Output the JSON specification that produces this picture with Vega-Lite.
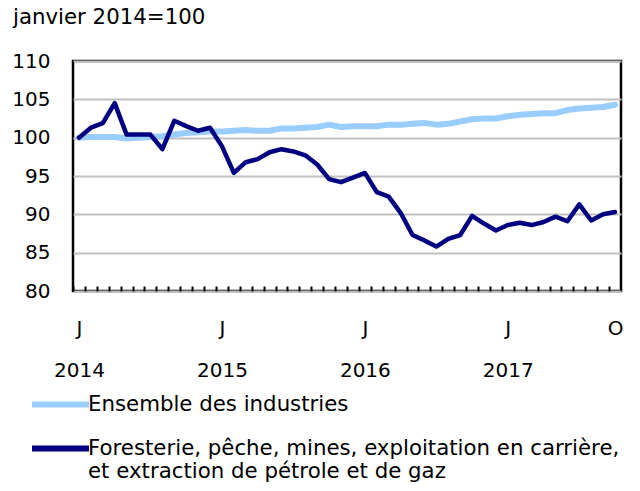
{
  "$schema": "https://vega.github.io/schema/vega-lite/v6.json",
  "autosize": {"type": "none"},
  "width": 548,
  "height": 230,
  "padding": {"left": 73, "top": 61, "right": 19, "bottom": 200},
  "background": "white",
  "config": {
    "font": "DejaVu Sans",
    "view": {"stroke": "black", "strokeWidth": 2.5},
    "axis": {"labelFont": "DejaVu Sans", "labelFontSize": 20, "labelColor": "black"},
    "legend": {"labelFont": "DejaVu Sans", "labelFontSize": 21.3, "labelColor": "black"}
  },
  "title": {
    "text": "janvier 2014=100",
    "anchor": "start",
    "frame": "group",
    "dx": -60,
    "offset": 6,
    "baseline": "alphabetic",
    "fontSize": 21.3,
    "fontWeight": "normal",
    "font": "DejaVu Sans",
    "color": "black"
  },
  "data": {
    "values": [
      {"date": "2014-01", "series": "Ensemble des industries", "value": 100.0},
      {"date": "2014-02", "series": "Ensemble des industries", "value": 100.1},
      {"date": "2014-03", "series": "Ensemble des industries", "value": 100.1},
      {"date": "2014-04", "series": "Ensemble des industries", "value": 100.1},
      {"date": "2014-05", "series": "Ensemble des industries", "value": 99.9},
      {"date": "2014-06", "series": "Ensemble des industries", "value": 100.0},
      {"date": "2014-07", "series": "Ensemble des industries", "value": 100.1},
      {"date": "2014-08", "series": "Ensemble des industries", "value": 100.2},
      {"date": "2014-09", "series": "Ensemble des industries", "value": 100.4},
      {"date": "2014-10", "series": "Ensemble des industries", "value": 100.6},
      {"date": "2014-11", "series": "Ensemble des industries", "value": 100.7},
      {"date": "2014-12", "series": "Ensemble des industries", "value": 100.8},
      {"date": "2015-01", "series": "Ensemble des industries", "value": 100.8},
      {"date": "2015-02", "series": "Ensemble des industries", "value": 100.9},
      {"date": "2015-03", "series": "Ensemble des industries", "value": 101.0},
      {"date": "2015-04", "series": "Ensemble des industries", "value": 100.9},
      {"date": "2015-05", "series": "Ensemble des industries", "value": 100.9},
      {"date": "2015-06", "series": "Ensemble des industries", "value": 101.2},
      {"date": "2015-07", "series": "Ensemble des industries", "value": 101.2},
      {"date": "2015-08", "series": "Ensemble des industries", "value": 101.3},
      {"date": "2015-09", "series": "Ensemble des industries", "value": 101.4},
      {"date": "2015-10", "series": "Ensemble des industries", "value": 101.7},
      {"date": "2015-11", "series": "Ensemble des industries", "value": 101.4},
      {"date": "2015-12", "series": "Ensemble des industries", "value": 101.5},
      {"date": "2016-01", "series": "Ensemble des industries", "value": 101.5},
      {"date": "2016-02", "series": "Ensemble des industries", "value": 101.5},
      {"date": "2016-03", "series": "Ensemble des industries", "value": 101.7},
      {"date": "2016-04", "series": "Ensemble des industries", "value": 101.7},
      {"date": "2016-05", "series": "Ensemble des industries", "value": 101.8},
      {"date": "2016-06", "series": "Ensemble des industries", "value": 101.9},
      {"date": "2016-07", "series": "Ensemble des industries", "value": 101.7},
      {"date": "2016-08", "series": "Ensemble des industries", "value": 101.8},
      {"date": "2016-09", "series": "Ensemble des industries", "value": 102.1},
      {"date": "2016-10", "series": "Ensemble des industries", "value": 102.4},
      {"date": "2016-11", "series": "Ensemble des industries", "value": 102.5},
      {"date": "2016-12", "series": "Ensemble des industries", "value": 102.5},
      {"date": "2017-01", "series": "Ensemble des industries", "value": 102.8},
      {"date": "2017-02", "series": "Ensemble des industries", "value": 103.0},
      {"date": "2017-03", "series": "Ensemble des industries", "value": 103.1},
      {"date": "2017-04", "series": "Ensemble des industries", "value": 103.2},
      {"date": "2017-05", "series": "Ensemble des industries", "value": 103.2},
      {"date": "2017-06", "series": "Ensemble des industries", "value": 103.6},
      {"date": "2017-07", "series": "Ensemble des industries", "value": 103.8},
      {"date": "2017-08", "series": "Ensemble des industries", "value": 103.9},
      {"date": "2017-09", "series": "Ensemble des industries", "value": 104.0},
      {"date": "2017-10", "series": "Ensemble des industries", "value": 104.3},
      {"date": "2014-01", "series": "Foresterie", "value": 100.0},
      {"date": "2014-02", "series": "Foresterie", "value": 101.3},
      {"date": "2014-03", "series": "Foresterie", "value": 101.9},
      {"date": "2014-04", "series": "Foresterie", "value": 104.5},
      {"date": "2014-05", "series": "Foresterie", "value": 100.4},
      {"date": "2014-06", "series": "Foresterie", "value": 100.4},
      {"date": "2014-07", "series": "Foresterie", "value": 100.4},
      {"date": "2014-08", "series": "Foresterie", "value": 98.5},
      {"date": "2014-09", "series": "Foresterie", "value": 102.2},
      {"date": "2014-10", "series": "Foresterie", "value": 101.5},
      {"date": "2014-11", "series": "Foresterie", "value": 100.9},
      {"date": "2014-12", "series": "Foresterie", "value": 101.3},
      {"date": "2015-01", "series": "Foresterie", "value": 98.9},
      {"date": "2015-02", "series": "Foresterie", "value": 95.4},
      {"date": "2015-03", "series": "Foresterie", "value": 96.8},
      {"date": "2015-04", "series": "Foresterie", "value": 97.2},
      {"date": "2015-05", "series": "Foresterie", "value": 98.1},
      {"date": "2015-06", "series": "Foresterie", "value": 98.5},
      {"date": "2015-07", "series": "Foresterie", "value": 98.2},
      {"date": "2015-08", "series": "Foresterie", "value": 97.7},
      {"date": "2015-09", "series": "Foresterie", "value": 96.5},
      {"date": "2015-10", "series": "Foresterie", "value": 94.6},
      {"date": "2015-11", "series": "Foresterie", "value": 94.2},
      {"date": "2015-12", "series": "Foresterie", "value": 94.8},
      {"date": "2016-01", "series": "Foresterie", "value": 95.4},
      {"date": "2016-02", "series": "Foresterie", "value": 92.9},
      {"date": "2016-03", "series": "Foresterie", "value": 92.3},
      {"date": "2016-04", "series": "Foresterie", "value": 90.2},
      {"date": "2016-05", "series": "Foresterie", "value": 87.3},
      {"date": "2016-06", "series": "Foresterie", "value": 86.6},
      {"date": "2016-07", "series": "Foresterie", "value": 85.8},
      {"date": "2016-08", "series": "Foresterie", "value": 86.8},
      {"date": "2016-09", "series": "Foresterie", "value": 87.3},
      {"date": "2016-10", "series": "Foresterie", "value": 89.8},
      {"date": "2016-11", "series": "Foresterie", "value": 88.8},
      {"date": "2016-12", "series": "Foresterie", "value": 87.9},
      {"date": "2017-01", "series": "Foresterie", "value": 88.6},
      {"date": "2017-02", "series": "Foresterie", "value": 88.9},
      {"date": "2017-03", "series": "Foresterie", "value": 88.6},
      {"date": "2017-04", "series": "Foresterie", "value": 89.0},
      {"date": "2017-05", "series": "Foresterie", "value": 89.7},
      {"date": "2017-06", "series": "Foresterie", "value": 89.1},
      {"date": "2017-07", "series": "Foresterie", "value": 91.3},
      {"date": "2017-08", "series": "Foresterie", "value": 89.2},
      {"date": "2017-09", "series": "Foresterie", "value": 90.0},
      {"date": "2017-10", "series": "Foresterie", "value": 90.3}
    ]
  },
  "encoding": {
    "x": {
      "field": "date",
      "type": "ordinal",
      "scale": {"type": "point", "padding": 0.5},
      "axis": {
        "title": null,
        "domain": false,
        "grid": false,
        "ticks": true,
        "tickSize": 5,
        "tickWidth": 2,
        "tickColor": "black",
        "tickOffset": -5.96,
        "labelOffset": 5.96,
        "offset": -5,
        "labelAngle": 0,
        "labelPadding": 27,
        "labelLineHeight": 42,
        "labelOverlap": false,
        "labelExpr": "slice(datum.value, 5) == '01' ? ['J', slice(datum.value, 0, 4)] : (datum.value == '2017-10' ? 'O' : '')"
      }
    },
    "y": {
      "field": "value",
      "type": "quantitative",
      "scale": {"domain": [80, 110], "nice": false, "zero": false},
      "axis": {
        "title": null,
        "values": [80, 85, 90, 95, 100, 105, 110],
        "domain": false,
        "ticks": false,
        "tickSize": 0,
        "labelPadding": 23,
        "grid": true,
        "gridColor": "#c0c0c0",
        "gridWidth": 2
      }
    },
    "color": {
      "field": "series",
      "type": "nominal",
      "scale": {"domain": ["Ensemble des industries", "Foresterie"], "range": ["#99ccff", "#000080"]},
      "legend": {
        "title": null,
        "orient": "none",
        "legendX": -44,
        "legendY": 312,
        "padding": 0,
        "direction": "vertical",
        "symbolType": "stroke",
        "symbolSize": 3249,
        "symbolStrokeWidth": 6,
        "labelOffset": -4,
        "labelLimit": 700,
        "labelLineHeight": 23,
        "rowPadding": 0,
        "labelExpr": "datum.value == 'Foresterie' ? ['Foresterie, pêche, mines, exploitation en carrière,', 'et extraction de pétrole et de gaz'] : datum.value"
      }
    }
  },
  "layer": [
    {
      "transform": [{"filter": "datum.series == 'Ensemble des industries'"}],
      "mark": {"type": "line", "strokeWidth": 6, "strokeJoin": "round", "strokeCap": "round"}
    },
    {
      "transform": [{"filter": "datum.series == 'Foresterie'"}],
      "mark": {"type": "line", "strokeWidth": 4.5, "strokeJoin": "round", "strokeCap": "round"}
    }
  ]
}
